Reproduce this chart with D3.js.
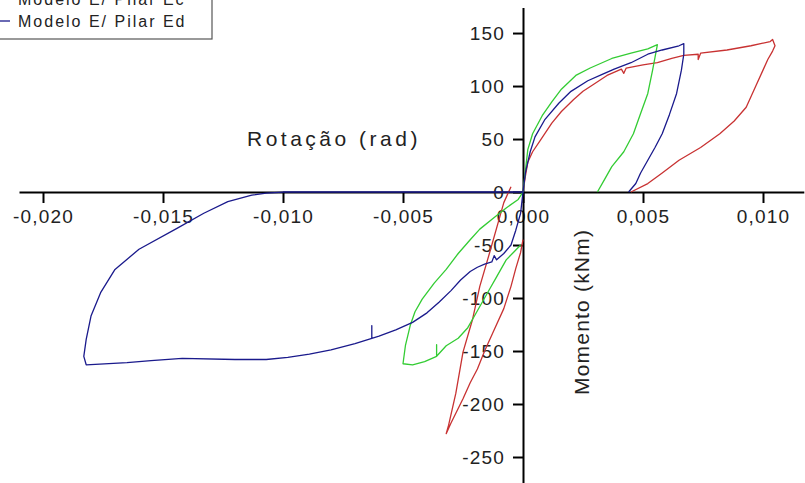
<!DOCTYPE html>
<html><head><meta charset="utf-8">
<script src="https://cdn.jsdelivr.net/npm/d3@7"></script>
<style>
html,body{margin:0;padding:0;background:#fff;}
svg{display:block;font-family:"Liberation Sans",Arial,sans-serif;}
</style></head>
<body><svg id="c" width="805" height="483"></svg>
<script>
// ---- data (rotation rad, moment kNm) ----
const xTicks = [-0.020, -0.015, -0.010, -0.005, 0.000, 0.005, 0.010];
const xMinorTicks = [-0.0175, -0.0125, -0.0075, -0.0025, 0.0025, 0.0075, 0.0125];
const yTicks = [-250, -200, -150, -100, -50, 0, 50, 100, 150];
const yMinorTicks = [-275, -225, -175, -125, -75, -25, 25, 75, 125];
const legendLabels = ["Modelo E/ Pilar Ec", "Modelo E/ Pilar Ed"];

const redPosX = [0, 0.0001, 0.0002, 0.0004, 0.0007, 0.0012, 0.0016, 0.0021, 0.0025, 0.0029, 0.0035, 0.0041, 0.0042, 0.0043, 0.0050, 0.0056, 0.0062, 0.0067, 0.0073, 0.0073, 0.0074, 0.0085, 0.0095, 0.0103, 0.0104, 0.0105, 0.0104, 0.0102, 0.0100, 0.0097, 0.0093, 0.0088, 0.0082, 0.0074, 0.0065, 0.0058, 0.0052, 0.0045];
const redPosY = [0, 15, 28, 38, 48, 65, 76, 87, 95, 101, 110, 116, 112, 117, 120, 122, 126, 129, 130, 125, 131, 134, 138, 142, 144, 138, 133, 125, 115, 100, 80, 67, 55, 42, 30, 18, 8, 0];
const redNegX = [-0.0005, -0.0008, -0.0010, -0.0014, -0.0018, -0.0021, -0.0025, -0.0028, -0.0031, -0.0032, -0.0030, -0.0025, -0.0022, -0.0019, -0.0016, -0.0012, -0.0008, -0.0005, -0.0003, -0.0001, 0];
const redNegY = [5, -10, -26, -58, -89, -120, -151, -190, -220, -228, -218, -195, -180, -167, -150, -130, -110, -89, -72, -57, -45];

const greenPosX = [0, 0.0001, 0.0002, 0.0004, 0.0008, 0.0012, 0.0016, 0.0022, 0.0028, 0.0037, 0.0045, 0.0052, 0.0056, 0.0055, 0.0054, 0.0052, 0.0049, 0.0046, 0.0042, 0.0037, 0.0034, 0.0031];
const greenPosY = [0, 20, 40, 55, 72, 85, 97, 110, 117, 126, 131, 135, 139, 127, 115, 93, 74, 55, 38, 24, 12, 0];
const greenNegX = [0, -0.0002, -0.0007, -0.0012, -0.0018, -0.0022, -0.0027, -0.0032, -0.0037, -0.0042, -0.0045, -0.0047, -0.0049, -0.0050, -0.0046, -0.0041, -0.0036, -0.0036, -0.0036, -0.0032, -0.0027, -0.0023, -0.0020, -0.0017, -0.0014, -0.0011, -0.0007, -0.0004, -0.0001];
const greenNegY = [0, -7, -15, -24, -35, -45, -58, -73, -86, -101, -113, -126, -145, -162, -163, -160, -155, -144, -155, -145, -138, -128, -116, -104, -92, -80, -64, -57, -50];

const bluePosX = [0, 0.0001, 0.0003, 0.0005, 0.0009, 0.0015, 0.0020, 0.0027, 0.0033, 0.0038, 0.0045, 0.0052, 0.0058, 0.0065, 0.0067, 0.0067, 0.0066, 0.0064, 0.0061, 0.0058, 0.0055, 0.0052, 0.0049, 0.0047, 0.0044];
const bluePosY = [0, 18, 38, 52, 68, 84, 95, 105, 111, 116, 122, 130, 134, 138, 140, 130, 115, 93, 73, 55, 42, 30, 18, 8, 0];
const blueNegX = [0, -0.0001, -0.0003, -0.0005, -0.0008, -0.0011, -0.0012, -0.0013, -0.0016, -0.0019, -0.0022, -0.0026, -0.0030, -0.0035, -0.0040, -0.0046, -0.0053, -0.0060, -0.0063, -0.0063, -0.0063, -0.0070, -0.0080, -0.0089, -0.0098, -0.0107, -0.0120, -0.0142, -0.0155, -0.0165, -0.0182, -0.0183, -0.0182, -0.0180, -0.0176, -0.0170, -0.0160, -0.0144, -0.0133, -0.0123, -0.0113, -0.0107, -0.0100, 0];
const blueNegY = [0, -20, -36, -50, -58, -64, -60, -66, -68, -71, -75, -83, -93, -104, -114, -123, -130, -136, -138, -126, -138, -143, -149, -153, -156, -158, -158, -157, -159, -161, -163, -155, -139, -117, -95, -73, -54, -34, -20, -9, -3, -1, 0, 0];

// ---- drawing ----
const svg = d3.select("#c");
const x = d3.scaleLinear().domain([-0.021, 0.0117]).range([19, 803.8]);
const y = d3.scaleLinear().domain([-275, 174]).range([483.5, 7.6]);
const fmtX = v => d3.format(".3f")(v).replace(".", ",").replace("−", "-");

// x axis
const gx = svg.append("g").attr("transform", `translate(0,${y(0)})`);
gx.call(d3.axisBottom(x).tickValues(xMinorTicks).tickSize(5).tickSizeOuter(0).tickFormat(""));
gx.call(d3.axisBottom(x).tickValues(xTicks).tickSize(11).tickSizeOuter(0).tickPadding(6).tickFormat(fmtX));
gx.selectAll("path,line").attr("stroke", "#000").attr("stroke-width", 2);
gx.selectAll("text").attr("font-size", 19).attr("letter-spacing", 1.2).attr("fill", "#222")
  .attr("font-family", "Liberation Sans, Arial, sans-serif");

// y axis
const gy = svg.append("g").attr("transform", `translate(${x(0)},0)`);
gy.call(d3.axisLeft(y).tickValues(yMinorTicks).tickSize(5).tickSizeOuter(0).tickFormat(""));
gy.call(d3.axisLeft(y).tickValues(yTicks).tickSize(10).tickSizeOuter(0).tickPadding(8).tickFormat(d3.format("d")));
gy.selectAll("path,line").attr("stroke", "#000").attr("stroke-width", 2);
gy.selectAll("text").attr("font-size", 19).attr("letter-spacing", 1.2).attr("fill", "#222")
  .attr("font-family", "Liberation Sans, Arial, sans-serif").text(d => String(d).replace("−", "-"));

// series
const line = d3.line().x(d => x(d[0])).y(d => y(d[1]));
const zip = (a, b) => a.map((v, i) => [v, b[i]]);
const series = [
  {xs: redPosX, ys: redPosY, c: "#c83232"},
  {xs: redNegX, ys: redNegY, c: "#c83232"},
  {xs: greenPosX, ys: greenPosY, c: "#33cc33"},
  {xs: greenNegX, ys: greenNegY, c: "#33cc33"},
  {xs: bluePosX, ys: bluePosY, c: "#1a1a8c"},
  {xs: blueNegX, ys: blueNegY, c: "#1a1a8c"}
];
svg.append("g").selectAll("path").data(series).join("path")
  .attr("d", s => line(zip(s.xs, s.ys)))
  .attr("fill", "none").attr("stroke", s => s.c).attr("stroke-width", 1.3)
  .attr("stroke-linejoin", "round");

// axis titles
svg.append("text").attr("x", 247).attr("y", 146).attr("font-size", 21).attr("letter-spacing", 3.5)
  .attr("fill", "#222").text("Rotação (rad)");
svg.append("text").attr("transform", "translate(589,395) rotate(-90)").attr("font-size", 21)
  .attr("letter-spacing", 1.2).attr("fill", "#222").text("Momento (kNm)");

// legend
const lg = svg.append("g");
lg.append("rect").attr("x", -2).attr("y", -10).attr("width", 214).attr("height", 49)
  .attr("fill", "#fff").attr("stroke", "#555").attr("stroke-width", 1.2);
const legendColors = ["#33cc33", "#1a1a8c"];
legendLabels.forEach((t, i) => {
  lg.append("line").attr("x1", 0).attr("x2", 10).attr("y1", -1 + i * 22).attr("y2", -1 + i * 22)
    .attr("stroke", legendColors[i]).attr("stroke-width", 1.3);
  lg.append("text").attr("x", 18).attr("y", 5 + i * 22).attr("font-size", 16).attr("letter-spacing", 2)
    .attr("fill", "#222").text(t);
});
</script></body></html>
